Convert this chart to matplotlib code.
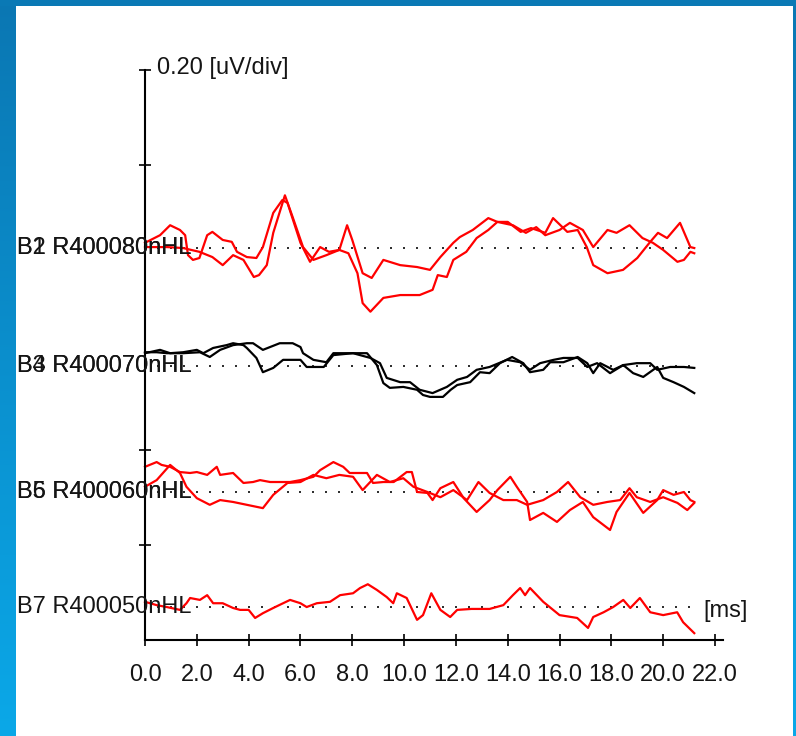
"""
Averaged evoked-response traces (four intensity groups) in an instrument-style frame.
"""

import matplotlib
matplotlib.use('Agg')
import matplotlib.pyplot as plt
import numpy as np
from matplotlib.colors import LinearSegmentedColormap
from matplotlib.transforms import blended_transform_factory

# ---- data: time [ms] and amplitude [nV] of each averaged trace ----
t_b1 = [0, 0.85, 1.47, 2.1, 2.6, 3.0, 3.4, 3.8, 4.2, 4.4, 4.7, 4.95, 5.4, 5.7, 6.1, 6.5, 7.0,
        7.5, 7.85, 8.2, 8.4, 8.7, 9.2, 9.85, 10.6, 11.1, 11.3, 11.65, 11.9, 12.4, 12.8, 13.25,
        13.6, 14.0, 14.5, 14.9, 15.45, 15.75, 16.3, 16.7, 17.05, 17.3, 17.85, 18.45, 19.0,
        19.5, 19.8, 20.15, 20.65, 21.05, 21.2]
amp_b1 = [2, 2, 0, -8, -19, -36, -15, -25, -61, -57, -36, 32, 111, 65, 2, -25, -15, -4, -11,
          -53, -116, -134, -105, -99, -99, -88, -57, -61, -25, -8, 21, 38, 55, 55, 34, 42, 32,
          63, 34, 38, 2, -36, -53, -46, -21, 13, 32, 21, 53, 2, 0]

t_b2 = [0, 0.58, 0.97, 1.35, 1.55, 1.66, 1.85, 2.1, 2.4, 2.6, 3.0, 3.35, 3.55, 3.93, 4.3, 4.55,
        4.95, 5.3, 5.5, 6.0, 6.37, 6.76, 7.1, 7.5, 7.8, 8.0, 8.4, 8.75, 9.2, 9.85, 10.5, 11.0,
        11.4, 11.9, 12.15, 12.65, 13.25, 13.6, 14.2, 14.7, 15.1, 15.45, 16.0, 16.4, 16.9, 17.3,
        17.85, 18.2, 18.7, 19.2, 19.6, 20.0, 20.55, 20.8, 21.05, 21.2]
amp_b2 = [11, 27, 48, 38, 27, -15, -25, -21, 27, 34, 17, 13, -8, -19, -21, 2, 74, 101, 95, 11,
          -29, 2, -8, -4, 48, 17, -53, -63, -25, -36, -40, -46, -19, 11, 23, 38, 63, 55, 48, 32,
          44, 27, 38, 53, 38, 2, 38, 32, 48, 21, 11, -4, -29, -25, -8, -11]

t_b3 = [0, 0.58, 0.97, 1.47, 2.0, 2.25, 2.63, 3.15, 3.4, 3.8, 3.93, 4.3, 4.55, 4.95, 5.33, 6.0,
        6.24, 6.9, 7.27, 8.03, 8.57, 8.95, 9.2, 9.45, 9.97, 10.5, 10.73, 11.0, 11.5, 11.8,
        12.05, 12.55, 12.93, 13.3, 13.7, 14.17, 14.6, 14.86, 15.37, 15.64, 16.15, 16.7, 17.07,
        17.3, 17.57, 18.07, 18.46, 18.84, 19.23, 19.77, 20.0, 20.4, 20.8, 21.2]
amp_b3 = [27, 34, 27, 29, 34, 27, 38, 44, 48, 44, 38, 17, -13, -4, 13, 13, -2, -2, 23, 27, 27,
          2, -36, -46, -44, -50, -61, -65, -65, -50, -40, -34, -13, -15, 6, 19, 6, -13, -8, 8,
          8, 19, 6, -15, 6, -8, 2, -15, -23, -2, -25, -34, -44, -57]

t_b4 = [0, 0.45, 0.84, 1.47, 2.12, 2.5, 2.9, 3.4, 3.93, 4.17, 4.55, 5.2, 5.7, 6.0, 6.1, 6.5,
        7.0, 7.27, 8.03, 8.7, 9.07, 9.33, 9.85, 10.23, 10.6, 11.1, 11.65, 12.05, 12.43, 12.8,
        13.3, 13.97, 14.48, 14.86, 15.25, 15.77, 16.15, 16.7, 17.07, 17.45, 17.95, 18.46,
        18.98, 19.5, 19.77, 20.27, 20.8, 21.2]
amp_b4 = [29, 29, 27, 27, 29, 19, 34, 44, 48, 48, 34, 48, 48, 40, 27, 13, 8, 27, 27, 17, 6,
          -25, -34, -34, -50, -57, -44, -29, -23, -8, -2, 13, 8, -8, 6, 13, 17, 17, -2, 6, -15,
          2, 6, 6, -8, -2, -2, -4]

t_b5 = [0, 0.45, 0.64, 0.97, 1.35, 1.74, 2.0, 2.4, 2.77, 2.9, 3.4, 3.8, 4.17, 4.44, 4.83, 5.2,
        5.6, 6.0, 6.5, 6.76, 7.27, 7.65, 7.9, 8.3, 8.57, 8.8, 9.2, 9.6, 10.1, 10.3, 10.5, 10.9,
        11.1, 11.4, 11.9, 12.3, 12.8, 13.3, 13.6, 14.1, 14.35, 14.75, 14.86, 15.37, 15.9, 16.4,
        16.9, 17.3, 17.95, 18.2, 18.7, 19.23, 19.77, 20.0, 20.4, 20.8, 21.05, 21.2]
amp_b5 = [53, 63, 57, 53, 42, 40, 42, 36, 53, 36, 40, 19, 21, 25, 21, 21, 21, 25, 32, 46, 63,
          53, 40, 40, 40, 19, 21, 21, 42, 42, 0, -2, -17, 8, 21, -13, -42, -17, 4, 32, 11, -21,
          -59, -44, -63, -38, -21, -53, -80, -42, -2, -44, -17, 4, -6, 0, -17, -21]

t_b6 = [0, 0.45, 0.97, 1.35, 1.6, 2.0, 2.5, 2.9, 3.4, 3.93, 4.55, 4.95, 5.5, 6.0, 6.5, 7.0,
        7.5, 8.03, 8.4, 8.95, 9.45, 9.97, 10.36, 10.9, 11.4, 11.9, 12.43, 12.87, 13.3, 13.83,
        14.35, 14.75, 15.37, 15.9, 16.33, 16.8, 17.3, 17.84, 18.34, 18.7, 18.98, 19.5, 20.0,
        20.55, 20.93, 21.2]
amp_b6 = [11, 25, 57, 40, 11, -13, -27, -17, -21, -27, -34, -6, 19, 21, 36, 29, 36, 32, 4, 36,
          21, 29, 11, 0, -11, 4, -17, 21, -2, -17, -17, -27, -17, 0, 21, -11, -27, -21, -17, 8,
          -11, -21, -11, -23, -38, -23]

t_b7 = [0, 0.45, 0.84, 1.35, 1.6, 1.74, 2.12, 2.4, 2.63, 3.0, 3.4, 3.67, 4.0, 4.25, 4.55, 4.95,
        5.33, 5.6, 6.0, 6.24, 6.63, 7.14, 7.53, 8.03, 8.3, 8.6, 8.95, 9.33, 9.58, 9.72, 10.1,
        10.5, 10.73, 11.05, 11.4, 11.78, 12.05, 12.6, 13.3, 13.83, 14.2, 14.48, 14.67, 14.86,
        15.37, 16.0, 16.68, 17.1, 17.3, 17.7, 18.07, 18.46, 18.73, 19.1, 19.5, 20.0, 20.54,
        20.77, 21.2]
amp_b7 = [11, 4, 0, -6, 8, 19, 15, 25, 8, 8, -2, -6, -6, -23, -13, -2, 8, 15, 8, 0, 8, 11, 25,
          29, 40, 48, 36, 21, 8, 29, 19, -27, -17, 29, -6, -21, -6, -4, -4, 4, 25, 40, 25, 40,
          11, -17, -23, -44, -21, -11, 0, 15, -2, 19, -11, -17, -11, -32, -55]

trace_names = ['B1', 'B2', 'B3', 'B4', 'B5', 'B6', 'B7']
stim_labels = ['R400080nHL', 'R400080nHL', 'R400070nHL', 'R400070nHL',
               'R400060nHL', 'R400060nHL', 'R400050nHL']
trace_colors = ['red', 'red', 'black', 'black', 'red', 'red', 'red']
x_ticks = [0, 2, 4, 6, 8, 10, 12, 14, 16, 18, 20, 22]

times = [t_b1, t_b2, t_b3, t_b4, t_b5, t_b6, t_b7]
amps = [amp_b1, amp_b2, amp_b3, amp_b4, amp_b5, amp_b6, amp_b7]

# ---- layout ----
NV_PER_DIV = 200.0          # 0.20 uV/div
offsets = [4.126, 4.126, 2.884, 2.884, 1.558, 1.558, 0.347]   # baseline of each trace in div

W, H = 796, 736
FS = 17
TXT = '#151515'

plt.rcParams['font.family'] = ['Liberation Sans', 'DejaVu Sans']

fig = plt.figure(figsize=(W / 100, H / 100), dpi=100)
fig.patch.set_facecolor('white')

# blue window frame
frame_cmap = LinearSegmentedColormap.from_list('frame', ['#0a77b3', '#0aa8e8'])
grad = np.linspace(0, 1, 256).reshape(-1, 1)
for rect in ([0, 0, 16 / W, 1], [793 / W, 0, 3 / W, 1]):
    fax = fig.add_axes(rect)
    fax.imshow(grad, aspect='auto', cmap=frame_cmap, origin='upper')
    fax.set_axis_off()
tax = fig.add_axes([0, 1 - 6 / H, 1, 6 / H])
tax.set_facecolor('#0a79b5')
tax.set_xticks([])
tax.set_yticks([])
for s in tax.spines.values():
    s.set_visible(False)

# main plot area: x 0..22 ms -> px 145..715, y 0..6 div -> px 640..70
ax = fig.add_axes([145 / W, (H - 640) / H, 570 / W, 570 / H])
ax.set_xlim(0, 22)
ax.set_ylim(0, 6)
ax.set_facecolor('none')
for s in ax.spines.values():
    s.set_visible(False)

ax.plot([0, 22.3], [0, 0], color='black', lw=1.5, clip_on=False, zorder=3)
ax.plot([0, 0], [0, 6], color='black', lw=1.5, clip_on=False, zorder=3)

ax.set_xticks(x_ticks)
ax.set_xticklabels([f'{v:.1f}' for v in x_ticks], fontsize=FS, color=TXT)
ax.set_yticks([1, 2, 5, 6])
ax.set_yticklabels([])
ax.tick_params(axis='both', direction='inout', length=8, width=1.2, color='black')
ax.tick_params(axis='x', pad=13)

# dotted baselines
dot_t = np.arange(0, 21.01, 0.5)
for base in sorted(set(offsets)):
    ax.plot(dot_t, np.full_like(dot_t, base), linestyle='none', marker='s',
            markersize=1.6, color='#303030', markeredgewidth=0, zorder=1)

# traces
for t, a, base, col in zip(times, amps, offsets, trace_colors):
    y = base + np.asarray(a, dtype=float) / NV_PER_DIV
    ax.plot(t, y, color=col, lw=1.6, zorder=2, clip_on=False)

# trace labels, left of the y axis (overlapping pairs as on the instrument)
lab_tr = blended_transform_factory(fig.transFigure, ax.transData)
for name, stim, base in zip(trace_names, stim_labels, offsets):
    ax.text(17 / W, base, f'{name} {stim}', transform=lab_tr, ha='left', va='center',
            fontsize=FS, color=TXT, zorder=4, clip_on=False)

ax.text(0.46, 6.02, '0.20 [uV/div]', ha='left', va='center', fontsize=FS, color=TXT,
        clip_on=False)
ax.text(22.39, 0.30, '[ms]', ha='center', va='center', fontsize=FS, color=TXT,
        clip_on=False)

fig.savefig('out.png', dpi=100)
